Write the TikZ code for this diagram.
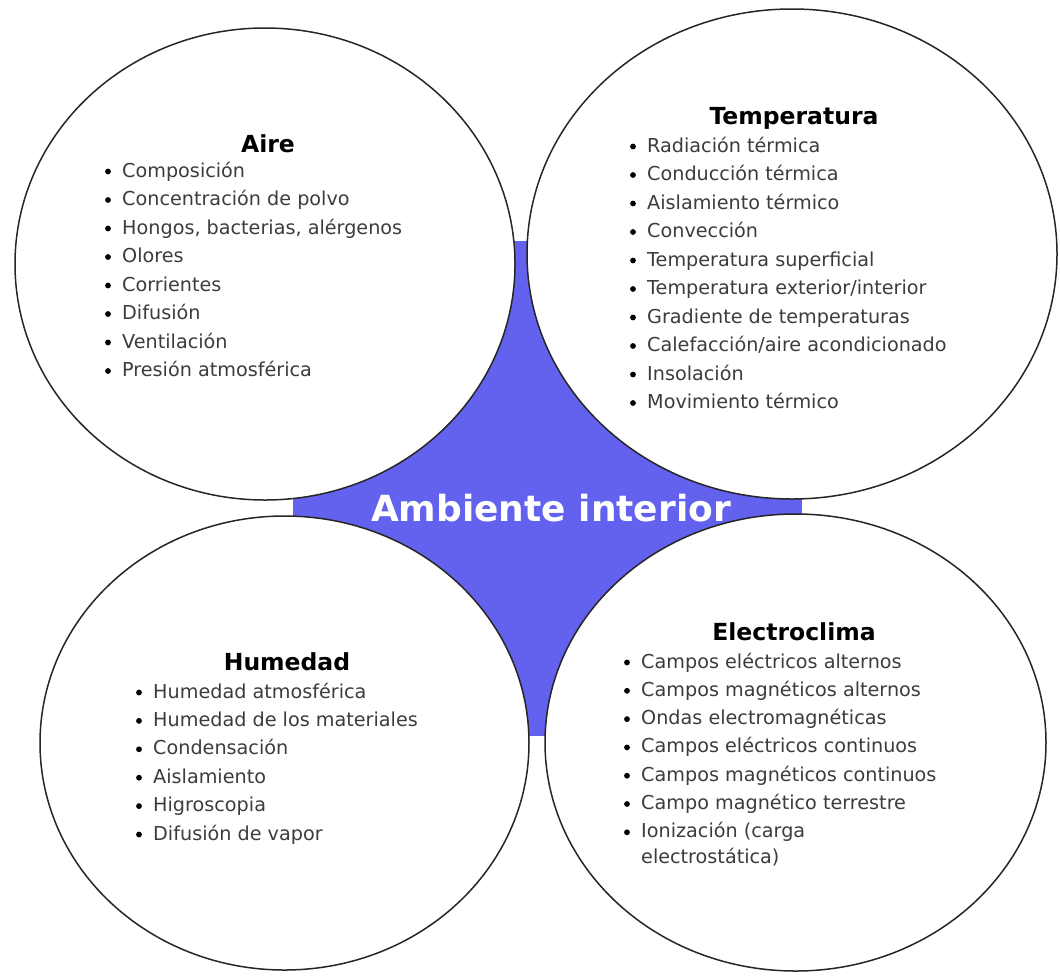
\documentclass[tikz,border=0pt]{standalone}
\usepackage{fontspec}
\setmainfont{DejaVu Sans}
\usetikzlibrary{shapes.geometric}
\definecolor{amb}{RGB}{98,98,238}
\definecolor{itemgray}{RGB}{60,60,60}
\begin{document}
\begin{tikzpicture}[x=1pt,y=-1pt,
  circ/.style={draw=black!85, line width=1.5pt, fill=white, ellipse, inner sep=0pt},
  ttl/.style={font=\bfseries\fontsize{23.5}{28}\selectfont, text=black, inner sep=0pt, anchor=base},
  itm/.style={font=\fontsize{19.2}{28}\selectfont, text=itemgray, inner sep=0pt, anchor=base west},
  bul/.style={fill=black},
]
\useasboundingbox (0,0) rectangle (1060,975);
\fill[white] (0,0) rectangle (1060,975);
\fill[amb] (293,241) rectangle (802,736);

\node[circ, minimum width=500pt, minimum height=472pt] (aire) at (265,264) {};
\node[circ, minimum width=530pt, minimum height=490pt] (temp) at (792,254) {};
\node[circ, minimum width=489pt, minimum height=454pt] (hum) at (284.5,743) {};
\node[circ, minimum width=501pt, minimum height=457pt] (elec) at (795.5,742.5) {};

\node[font=\bfseries\fontsize{36}{40}\selectfont, text=white, inner sep=0pt] (amb) at (551,508) {Ambiente interior};

% Aire
\node[ttl] (aireT) at (268,152.5) {Aire};
\foreach \t [count=\i] in {Composición, Concentración de polvo, {Hongos, bacterias, alérgenos}, Olores, Corrientes, Difusión, Ventilación, Presión atmosférica}{
  \node[itm] (a\i) at (122,{177+28.5*(\i-1)}) {\t};
  \fill[bul] (108,{171.5+28.5*(\i-1)}) circle (2.9);
}

% Temperatura
\node[ttl] (tempT) at (794,124.5) {Temperatura};
\foreach \t [count=\i] in {Radiación térmica, Conducción térmica, Aislamiento térmico, Convección, Temperatura superficial, Temperatura exterior/interior, Gradiente de temperaturas, Calefacción/aire acondicionado, Insolación, Movimiento térmico}{
  \node[itm] (t\i) at (647,{152+28.5*(\i-1)}) {\t};
  \fill[bul] (633,{146.5+28.5*(\i-1)}) circle (2.9);
}

% Humedad
\node[ttl] (humT) at (287,670.5) {Humedad};
\foreach \t [count=\i] in {Humedad atmosférica, Humedad de los materiales, Condensación, Aislamiento, Higroscopia, Difusión de vapor}{
  \node[itm] (h\i) at (153,{698+28.4*(\i-1)}) {\t};
  \fill[bul] (139,{692.5+28.4*(\i-1)}) circle (2.9);
}

% Electroclima
\node[ttl] (elecT) at (794,640.5) {Electroclima};
\foreach \t [count=\i] in {Campos eléctricos alternos, Campos magnéticos alternos, Ondas electromagnéticas, Campos eléctricos continuos, Campos magnéticos continuos, Campo magnético terrestre, Ionización (carga}{
  \node[itm] (e\i) at (641,{668+28.3*(\i-1)}) {\t};
  \fill[bul] (627,{662.5+28.3*(\i-1)}) circle (2.9);
}
\node[itm] (e8) at (641,863) {electrostática)};
\end{tikzpicture}
\end{document}
